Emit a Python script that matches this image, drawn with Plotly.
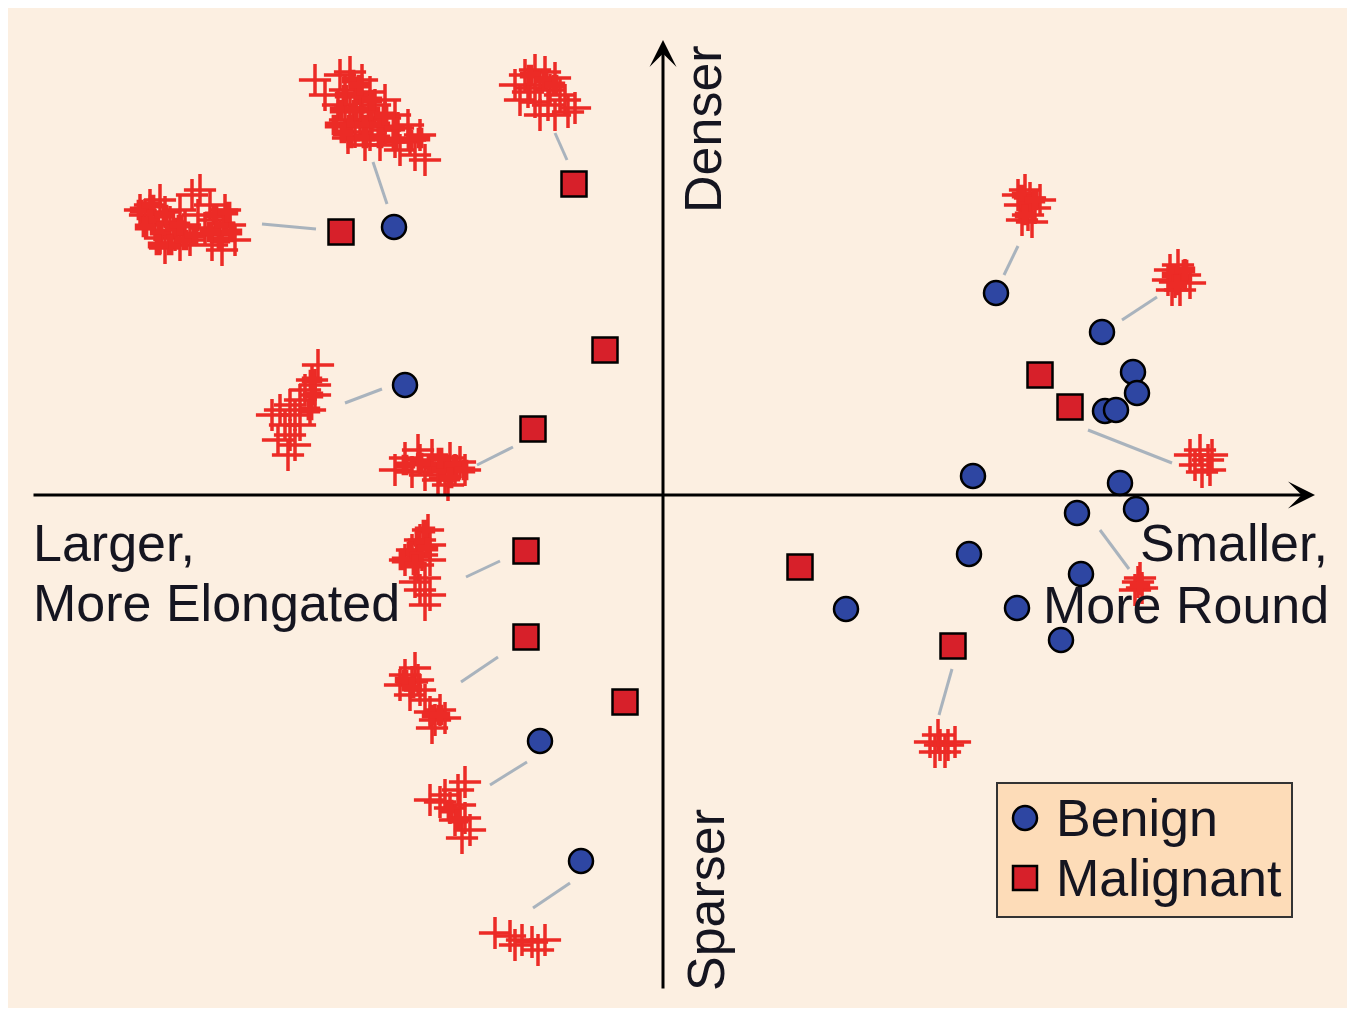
import plotly.graph_objects as go

# ---------------- data (embedding coordinates, origin at the axes crossing) ----------------
benign_x = [-269, -258, -123, -82, 333, 439, 470, 474, 442, 453, 310, 457, 414, 473, 306, 418, 183, 354, 398]
benign_y = [268, 110, -246, -366, 202, 163, 123, 102, 84, 85, 19, 12, -18, -14, -59, -79, -114, -113, -145]

malignant_x = [-322, -89, -58, -130, -137, -137, -38, 137, 290, 377, 407]
malignant_y = [263, 311, 145, 66, -56, -142, -207, -72, -151, 120, 88]

# cluster glyphs (each "+" is one element of the shape cluster)
cluster_a = [(-348, 415), (-338, 400), (-323, 420), (-313, 423), (-301, 415), (-318, 405), (-308, 400),
             (-293, 403), (-325, 390), (-313, 387), (-301, 385), (-288, 390), (-278, 395), (-318, 375),
             (-303, 373), (-291, 375), (-278, 377), (-268, 380), (-308, 363), (-293, 360), (-278, 365),
             (-265, 367), (-255, 370), (-283, 350), (-268, 353), (-253, 355), (-243, 360), (-263, 345),
             (-248, 340), (-238, 335), (-298, 350), (-315, 357)]
cluster_b = [(-513, 290), (-518, 280), (-503, 295), (-498, 283), (-508, 270), (-493, 273), (-503, 257),
             (-488, 260), (-498, 247), (-483, 285), (-478, 270), (-483, 250), (-471, 300), (-463, 305),
             (-465, 280), (-453, 290), (-458, 267), (-448, 275), (-443, 260), (-451, 250), (-438, 285),
             (-433, 270), (-428, 255), (-441, 245), (-523, 285), (-473, 255)]
cluster_c = [(-148, 410), (-138, 420), (-128, 425), (-118, 423), (-108, 417), (-133, 407), (-123, 410),
             (-113, 405), (-103, 400), (-143, 395), (-128, 393), (-115, 390), (-98, 395), (-88, 387),
             (-123, 380), (-108, 380), (-95, 383), (-135, 403)]
cluster_d = [(-345, 130), (-351, 115), (-358, 105), (-348, 100), (-363, 95), (-373, 90), (-383, 85),
             (-368, 80), (-391, 80), (-378, 70), (-363, 70), (-373, 60), (-385, 55), (-368, 50),
             (-375, 40), (-353, 85), (-348, 110)]
cluster_e = [(-268, 25), (-258, 37), (-251, 23), (-243, 35), (-238, 20), (-231, 40), (-223, 27),
             (-218, 17), (-213, 37), (-208, 25), (-203, 33), (-225, 15), (-245, 45), (-215, 10), (-198, 25)]
cluster_f = [(-235, -35), (-243, -45), (-233, -50), (-251, -55), (-241, -60), (-258, -65), (-245, -70),
             (-233, -65), (-238, -83), (-243, -95), (-233, -100), (-238, -110), (-248, -87)]
cluster_g = [(-258, -180), (-248, -173), (-263, -190), (-251, -187), (-243, -195), (-253, -200),
             (-238, -205), (-233, -217), (-223, -215), (-228, -225), (-218, -223), (-231, -233), (-245, -185)]
cluster_h = [(-233, -305), (-218, -300), (-205, -295), (-198, -287), (-213, -313), (-203, -310),
             (-208, -325), (-198, -323), (-193, -335), (-201, -343), (-223, -307)]
cluster_i = [(-168, -438), (-153, -441), (-141, -445), (-131, -447), (-118, -445), (-125, -455), (-148, -450)]
cluster_j = [(362, 305), (367, 297), (357, 290), (372, 287), (365, 280), (377, 295), (359, 275), (369, 273), (355, 300)]
cluster_k = [(507, 225), (515, 230), (522, 220), (512, 213), (505, 215), (527, 212), (517, 205), (509, 205)]
cluster_l = [(527, 40), (537, 45), (545, 35), (532, 30), (547, 25), (539, 23), (549, 40)]
cluster_m = [(475, -87), (479, -93), (472, -95), (477, -83)]
cluster_n = [(267, -247), (277, -250), (285, -250), (292, -247), (272, -257), (282, -257), (275, -240)]

# densely overlapping elements forming the solid cores of the clusters
core_a = [(-311, 415), (-318, 400), (-305, 400), (-323, 385), (-308, 385), (-293, 385), (-328, 370),
          (-313, 370), (-298, 370), (-283, 370), (-268, 367), (-313, 357), (-298, 357), (-283, 357),
          (-268, 355), (-253, 355), (-243, 357), (-291, 395), (-278, 380), (-303, 410), (-320, 362)]
core_b = [(-523, 285), (-511, 290), (-513, 275), (-498, 280), (-503, 263), (-488, 267), (-493, 250),
          (-478, 255), (-483, 270), (-468, 260), (-448, 280), (-438, 270), (-443, 255), (-431, 263),
          (-453, 263), (-435, 283), (-505, 250), (-518, 268)]
core_c = [(-133, 420), (-118, 415), (-108, 410)]
core_d = [(-351, 115), (-350, 100), (-353, 85)]
core_e = [(-233, 30), (-221, 25), (-208, 30), (-198, 25), (-213, 17), (-223, 37), (-243, 32), (-258, 30)]
core_f = [(-238, -35), (-245, -47), (-253, -57), (-261, -65), (-243, -60), (-248, -70), (-235, -53)]
core_g = [(-258, -185), (-251, -193), (-231, -220), (-223, -220)]
core_h = [(-213, -315), (-205, -325)]
core_j = [(359, 300), (367, 290), (362, 280), (372, 295)]
core_k = [(509, 220), (519, 217), (514, 210), (522, 225)]
core_m = [(477, -90)]

clusters = [cluster_a, cluster_b, cluster_c, cluster_d, cluster_e, cluster_f, cluster_g,
            cluster_h, cluster_i, cluster_j, cluster_k, cluster_l, cluster_m, cluster_n]
cores = [core_a, core_b, core_c, core_d, core_e, core_f, core_g, core_h, core_j, core_k, core_m]

# links from each cluster to its case marker: (x0, y0, x1, y1)
links = [(-290, 333, -276, 291), (-401, 271, -347, 266), (-108, 362, -96, 335), (-318, 92, -281, 106),
         (-186, 30, -150, 48), (-197, -82, -163, -66), (-202, -187, -165, -162), (-173, -290, -136, -267),
         (-130, -413, -93, -388), (355, 249, 341, 220), (459, 175, 494, 198), (425, 65, 509, 32),
         (437, -35, 466, -74), (289, -174, 276, -220)]

axis_labels = ["Larger,", "More Elongated", "Smaller,", "More Round", "Denser", "Sparser"]
legend_labels = ["Benign", "Malignant"]

# ---------------- styling ----------------
BG = "#FCEFE1"
BLUE = "#2E46A2"
RED = "#D7202A"
CROSS = "#EC2B26"
LINK = "#A9B3BD"
FONT = "Liberation Sans, Arial, sans-serif"

fig = go.Figure()

# links
lx, ly = [], []
for x0, y0, x1, y1 in links:
    lx += [x0, x1, None]
    ly += [y0, y1, None]
fig.add_trace(go.Scatter(x=lx, y=ly, mode="lines", line=dict(color=LINK, width=3),
                         hoverinfo="skip", showlegend=False))

# clusters
for c in clusters:
    fig.add_trace(go.Scatter(
        x=[p[0] for p in c], y=[p[1] for p in c], mode="markers",
        marker=dict(symbol="cross-thin", size=23, color=CROSS, line=dict(color=CROSS, width=3.5)),
        hoverinfo="skip", showlegend=False))
for c in cores:
    fig.add_trace(go.Scatter(
        x=[p[0] for p in c], y=[p[1] for p in c], mode="markers",
        marker=dict(symbol="cross", size=17, color=CROSS, line=dict(width=0)),
        hoverinfo="skip", showlegend=False))

# cases
fig.add_trace(go.Scatter(x=benign_x, y=benign_y, mode="markers", name="Benign",
                         marker=dict(symbol="circle", size=24, color=BLUE, line=dict(color="black", width=2.5)),
                         showlegend=False))
fig.add_trace(go.Scatter(x=malignant_x, y=malignant_y, mode="markers", name="Malignant",
                         marker=dict(symbol="square", size=25, color=RED, line=dict(color="black", width=2.5)),
                         showlegend=False))

annotations = [
    # axes with arrows
    dict(x=652, y=0, ax=-631, ay=0, xref="x", yref="y", axref="x", ayref="y", text="",
         showarrow=True, arrowhead=3, arrowsize=1.5, arrowwidth=3, arrowcolor="black"),
    dict(x=0, y=455, ax=0, ay=-495, xref="x", yref="y", axref="x", ayref="y", text="",
         showarrow=True, arrowhead=3, arrowsize=1.5, arrowwidth=3, arrowcolor="black"),
]
tfont = dict(family=FONT, size=52, color="#151520")
annotations += [
    dict(x=-632, y=-48, text=axis_labels[0], xanchor="left", yanchor="middle", showarrow=False, font=tfont),
    dict(x=-632, y=-108, text=axis_labels[1], xanchor="left", yanchor="middle", showarrow=False, font=tfont),
    dict(x=667, y=-48, text=axis_labels[2], xanchor="right", yanchor="middle", showarrow=False, font=tfont),
    dict(x=668, y=-110, text=axis_labels[3], xanchor="right", yanchor="middle", showarrow=False, font=tfont),
    dict(x=40, y=366, text=axis_labels[4], textangle=-90, xanchor="center", yanchor="middle",
         showarrow=False, font=tfont),
    dict(x=43, y=-405, text=axis_labels[5], textangle=-90, xanchor="center", yanchor="middle",
         showarrow=False, font=tfont),
    dict(x=391, y=-323, text=legend_labels[0], xanchor="left", yanchor="middle", showarrow=False, font=tfont),
    dict(x=391, y=-383, text=legend_labels[1], xanchor="left", yanchor="middle", showarrow=False, font=tfont),
]

shapes = [
    dict(type="rect", xref="x", yref="y", x0=334, x1=629, y0=-288, y1=-422,
         fillcolor="#FDDCB8", line=dict(color="#333333", width=2), layer="above"),
    dict(type="circle", xref="x", yref="y", x0=350, x1=374, y0=-311, y1=-335,
         fillcolor=BLUE, line=dict(color="black", width=2.5), layer="above"),
    dict(type="rect", xref="x", yref="y", x0=350, x1=374, y0=-371, y1=-395,
         fillcolor=RED, line=dict(color="black", width=2.5), layer="above"),
]

# the page adds an 8px body margin, so the figure is sized to fit inside the window
fig.update_layout(
    width=1347, height=1003,
    margin=dict(l=0, r=6, t=0, b=3, pad=0),
    paper_bgcolor="white", plot_bgcolor=BG,
    xaxis=dict(range=[-655, 686], visible=False, showgrid=False, zeroline=False, fixedrange=True),
    yaxis=dict(range=[-513, 487], visible=False, showgrid=False, zeroline=False, fixedrange=True),
    annotations=annotations, shapes=shapes, showlegend=False,
)

fig.write_html("out.html")
